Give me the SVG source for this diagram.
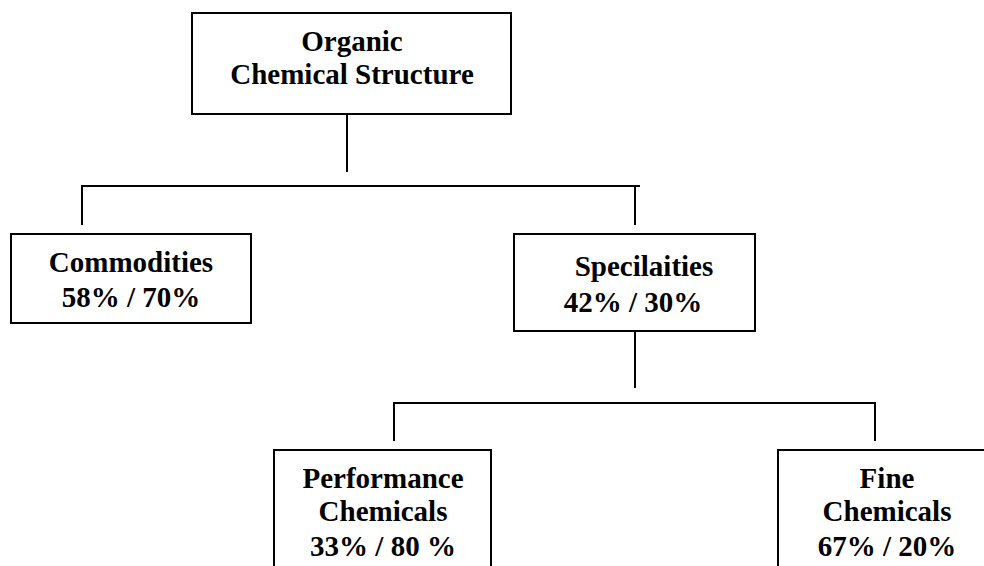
<svg xmlns="http://www.w3.org/2000/svg" width="984" height="566" viewBox="0 0 984 566">
<style>
.box{fill:#fff;stroke:#000;stroke-width:2}
.ln{fill:none;stroke:#000;stroke-width:2}
text{font-family:"Liberation Serif","Times New Roman",serif;font-weight:bold;font-size:29px;fill:#000;text-anchor:middle}
</style>
<rect width="984" height="566" fill="#fff"/>
<g id="connectors">
<path class="ln" d="M347 114V172"/>
<path class="ln" d="M82 225V186H640M635 186V225"/>
<path class="ln" d="M635 331V388"/>
<path class="ln" d="M394 441V403H875V441"/>
</g>
<g id="root">
<rect class="box" x="192" y="13" width="319" height="101"/>
<text x="352" y="51">Organic</text>
<text x="352" y="84">Chemical Structure</text>
</g>
<g id="commodities">
<rect class="box" x="11" y="234" width="240" height="89"/>
<text x="131" y="272">Commodities</text>
<text x="131" y="307">58% / 70%</text>
</g>
<g id="specialities">
<rect class="box" x="514" y="234" width="241" height="97"/>
<text x="644" y="276">Specilaities</text>
<text x="633" y="312">42% / 30%</text>
</g>
<g id="performance">
<rect class="box" x="274" y="450" width="217" height="130"/>
<text x="383" y="488">Performance</text>
<text x="383" y="521">Chemicals</text>
<text x="383" y="556">33% / 80 %</text>
</g>
<g id="fine">
<rect class="box" x="778" y="450" width="220" height="130"/>
<text x="887" y="488">Fine</text>
<text x="887" y="521">Chemicals</text>
<text x="887" y="556">67% / 20%</text>
</g>
</svg>
